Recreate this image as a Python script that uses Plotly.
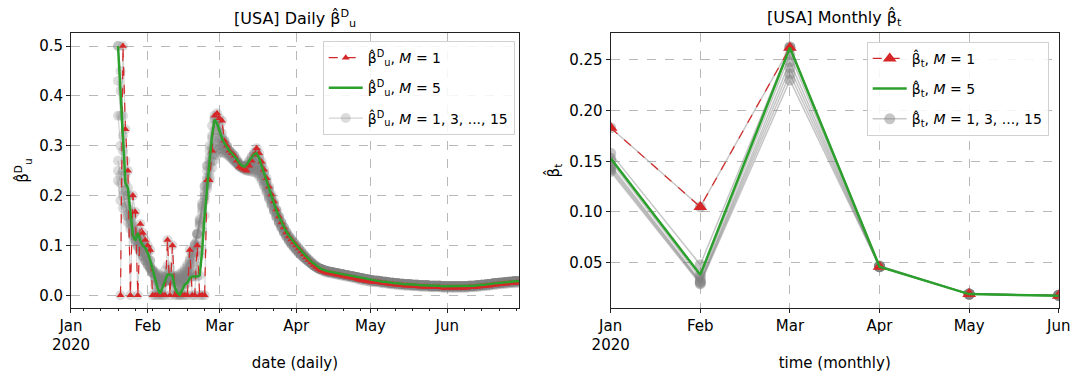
import plotly.graph_objects as go
import pandas as pd

# ---------------- daily data (left panel) ----------------
red_start = "2020-01-21"
red_m1 = [
    0, 0.5, 0.333, 0.25, 0, 0.2, 0.167, 0, 0.143, 0.125,
    0.111, 0.1, 0.091, 0, 0, 0, 0, 0, 0, 0.111,
    0, 0.1, 0, 0, 0, 0, 0, 0, 0.091, 0,
    0, 0.1, 0, 0, 0, 0.231, 0.231, 0.29, 0.36, 0.365,
    0.355, 0.35, 0.31, 0.3, 0.29, 0.285, 0.28, 0.27, 0.258, 0.255,
    0.252, 0.25, 0.26, 0.27, 0.282, 0.295, 0.285, 0.268, 0.252, 0.235,
    0.218, 0.202, 0.188, 0.172, 0.158, 0.146, 0.136, 0.126, 0.118, 0.112,
    0.106, 0.1, 0.094, 0.088, 0.082, 0.076, 0.071, 0.066, 0.061, 0.057,
    0.053, 0.05, 0.048, 0.046, 0.045, 0.044, 0.043, 0.042, 0.041, 0.04,
    0.039, 0.038, 0.037, 0.036, 0.035, 0.034, 0.032, 0.031, 0.03, 0.029,
    0.028, 0.027, 0.027, 0.026, 0.026, 0.025, 0.024, 0.024, 0.023, 0.022,
    0.022, 0.021, 0.021, 0.02, 0.02, 0.019, 0.019, 0.019, 0.018, 0.018,
    0.018, 0.017, 0.017, 0.017, 0.017, 0.016, 0.016, 0.016, 0.016, 0.016,
    0.015, 0.015, 0.015, 0.015, 0.015, 0.015, 0.015, 0.015, 0.015, 0.015,
    0.015, 0.016, 0.016, 0.016, 0.017, 0.017, 0.018, 0.018, 0.019, 0.019,
    0.02, 0.021, 0.021, 0.022, 0.022, 0.023, 0.023, 0.024, 0.024, 0.024,
    0.025, 0.025,
]

green_start = "2020-01-20"
green_m5 = [
    0.5, 0.41, 0.32, 0.225, 0.215, 0.165, 0.12, 0.11, 0.125, 0.11,
    0.1, 0.095, 0.085, 0.07, 0.05, 0.03, 0.015, 0.003, 0.015, 0.03,
    0.042, 0.042, 0.04, 0.015, 0.005, 0.001, 0.01, 0.022, 0.025, 0.035,
    0.038, 0.038, 0.038, 0.04, 0.09, 0.16, 0.22, 0.27, 0.32, 0.352,
    0.345, 0.33, 0.315, 0.305, 0.297, 0.29, 0.285, 0.28, 0.273, 0.266,
    0.26, 0.258, 0.262, 0.27, 0.277, 0.283, 0.285, 0.275, 0.26, 0.245,
    0.228, 0.212, 0.197, 0.183, 0.17, 0.158, 0.147, 0.137, 0.128, 0.12,
    0.113, 0.107, 0.101, 0.095, 0.089, 0.083, 0.078, 0.073, 0.068, 0.064,
    0.06, 0.056, 0.053, 0.051, 0.049, 0.048, 0.047, 0.046, 0.045, 0.044,
    0.043, 0.042, 0.041, 0.04, 0.039, 0.038, 0.037, 0.036, 0.035, 0.034,
    0.033, 0.032, 0.031, 0.03, 0.029, 0.029, 0.028, 0.027, 0.027, 0.026,
    0.025, 0.025, 0.024, 0.024, 0.023, 0.023, 0.022, 0.022, 0.022, 0.021,
    0.021, 0.021, 0.02, 0.02, 0.02, 0.02, 0.019, 0.019, 0.019, 0.019,
    0.019, 0.018, 0.018, 0.018, 0.018, 0.018, 0.018, 0.018, 0.018, 0.018,
    0.018, 0.018, 0.019, 0.019, 0.019, 0.02, 0.02, 0.021, 0.021, 0.022,
    0.022, 0.023, 0.024, 0.024, 0.025, 0.025, 0.026, 0.026, 0.027, 0.027,
    0.028, 0.028, 0.028,
]

# other window sizes: early part (Jan 20 .. Apr 10) read separately; later part coincides with M=5
gray_start = "2020-01-20"
gray_m3 = [
    0.5, 0.45, 0.36, 0.27, 0.2, 0.15, 0.16, 0.13, 0.12, 0.115,
    0.105, 0.098, 0.09, 0.07, 0.045, 0.02, 0.008, 0.012, 0.03, 0.05,
    0.06, 0.055, 0.035, 0.012, 0.004, 0.008, 0.02, 0.03, 0.04, 0.045,
    0.042, 0.045, 0.06, 0.08, 0.13, 0.2, 0.26, 0.3, 0.34, 0.355,
    0.35, 0.34, 0.325, 0.31, 0.3, 0.29, 0.283, 0.276, 0.268, 0.26,
    0.256, 0.255, 0.26, 0.268, 0.278, 0.286, 0.288, 0.277, 0.262, 0.246,
    0.23, 0.214, 0.198, 0.184, 0.17, 0.157, 0.146, 0.136, 0.127, 0.119,
    0.112, 0.105, 0.099, 0.093, 0.087, 0.081, 0.076, 0.071, 0.066, 0.062,
    0.058, 0.055,
]
gray_m7 = [
    0.43, 0.36, 0.29, 0.24, 0.2, 0.17, 0.14, 0.125, 0.115, 0.105,
    0.095, 0.085, 0.072, 0.058, 0.045, 0.034, 0.026, 0.022, 0.024, 0.028,
    0.032, 0.033, 0.03, 0.025, 0.02, 0.02, 0.024, 0.03, 0.038, 0.05,
    0.065, 0.085, 0.11, 0.14, 0.18, 0.22, 0.26, 0.29, 0.315, 0.33,
    0.332, 0.326, 0.316, 0.305, 0.296, 0.287, 0.28, 0.273, 0.267, 0.262,
    0.258, 0.257, 0.259, 0.263, 0.268, 0.272, 0.272, 0.265, 0.252, 0.237,
    0.222, 0.206, 0.191, 0.177, 0.164, 0.152, 0.141, 0.131, 0.122, 0.114,
    0.107, 0.1, 0.094, 0.088, 0.083, 0.078, 0.073, 0.068, 0.064, 0.06,
    0.057, 0.054,
]
gray_m9 = [
    0.36, 0.3, 0.25, 0.21, 0.18, 0.155, 0.135, 0.12, 0.108, 0.097,
    0.087, 0.077, 0.066, 0.055, 0.045, 0.037, 0.031, 0.027, 0.026, 0.027,
    0.029, 0.03, 0.029, 0.027, 0.025, 0.025, 0.028, 0.034, 0.044, 0.058,
    0.075, 0.097, 0.123, 0.153, 0.185, 0.218, 0.25, 0.277, 0.298, 0.31,
    0.315, 0.313, 0.307, 0.3, 0.292, 0.285, 0.278, 0.272, 0.267, 0.263,
    0.26, 0.258, 0.258, 0.26, 0.263, 0.265, 0.263, 0.256, 0.244, 0.23,
    0.215, 0.2, 0.186, 0.172, 0.16, 0.148, 0.138, 0.128, 0.12, 0.112,
    0.105, 0.099, 0.093, 0.087, 0.082, 0.077, 0.072, 0.068, 0.064, 0.06,
    0.057, 0.054,
]
gray_m11 = [
    0.27, 0.24, 0.21, 0.185, 0.163, 0.145, 0.128, 0.114, 0.101, 0.09,
    0.08, 0.07, 0.061, 0.053, 0.046, 0.04, 0.035, 0.032, 0.03, 0.03,
    0.03, 0.031, 0.031, 0.031, 0.031, 0.032, 0.035, 0.041, 0.05, 0.063,
    0.08, 0.1, 0.124, 0.15, 0.178, 0.207, 0.236, 0.262, 0.282, 0.295,
    0.302, 0.303, 0.3, 0.295, 0.289, 0.283, 0.277, 0.271, 0.266, 0.262,
    0.259, 0.257, 0.256, 0.256, 0.257, 0.258, 0.256, 0.25, 0.239, 0.226,
    0.212, 0.198, 0.184, 0.171, 0.159, 0.147, 0.137, 0.127, 0.119, 0.111,
    0.104, 0.098, 0.092, 0.086, 0.081, 0.076, 0.072, 0.068, 0.064, 0.06,
    0.057, 0.054,
]
gray_m13 = [
    0.25, 0.225, 0.2, 0.178, 0.158, 0.14, 0.124, 0.11, 0.098, 0.088,
    0.078, 0.069, 0.061, 0.054, 0.048, 0.043, 0.039, 0.036, 0.034, 0.033,
    0.033, 0.033, 0.034, 0.035, 0.036, 0.038, 0.042, 0.048, 0.057, 0.069,
    0.084, 0.102, 0.123, 0.147, 0.172, 0.198, 0.224, 0.248, 0.268, 0.282,
    0.291, 0.294, 0.293, 0.29, 0.285, 0.28, 0.275, 0.27, 0.265, 0.261,
    0.258, 0.255, 0.253, 0.252, 0.252, 0.252, 0.25, 0.244, 0.234, 0.222,
    0.209, 0.195, 0.182, 0.169, 0.157, 0.146, 0.136, 0.126, 0.118, 0.11,
    0.103, 0.097, 0.091, 0.086, 0.081, 0.076, 0.072, 0.068, 0.064, 0.06,
    0.057, 0.054,
]
gray_m15 = [
    0.23, 0.19, 0.175, 0.16, 0.146, 0.133, 0.12, 0.108, 0.097, 0.087,
    0.078, 0.07, 0.063, 0.057, 0.051, 0.047, 0.043, 0.04, 0.038, 0.037,
    0.036, 0.036, 0.037, 0.038, 0.04, 0.043, 0.047, 0.053, 0.062, 0.073,
    0.087, 0.103, 0.122, 0.143, 0.166, 0.19, 0.214, 0.237, 0.256, 0.271,
    0.281, 0.286, 0.287, 0.285, 0.282, 0.278, 0.273, 0.268, 0.264, 0.26,
    0.257, 0.254, 0.251, 0.249, 0.248, 0.247, 0.245, 0.239, 0.23, 0.219,
    0.206, 0.193, 0.18, 0.168, 0.156, 0.145, 0.135, 0.126, 0.117, 0.109,
    0.102, 0.096, 0.09, 0.085, 0.08, 0.076, 0.072, 0.068, 0.064, 0.06,
    0.057, 0.054,
]

month_ticks = ["2020-01-01", "2020-02-01", "2020-03-01", "2020-04-01", "2020-05-01", "2020-06-01"]
month_labels = ["Jan<br>2020", "Feb", "Mar", "Apr", "May", "Jun"]

# ---------------- monthly data (right panel) ----------------
months = [0, 1, 2, 3, 4, 5]
mon_red_m1 = [0.183, 0.105, 0.262, 0.046, 0.019, 0.0175]
mon_green_m5 = [0.153, 0.038, 0.262, 0.046, 0.019, 0.0175]
mon_gray = {
    1: [0.183, 0.105, 0.262, 0.046, 0.019, 0.0175],
    3: [0.158, 0.048, 0.263, 0.047, 0.019, 0.018],
    5: [0.153, 0.038, 0.262, 0.046, 0.019, 0.0175],
    7: [0.150, 0.035, 0.255, 0.046, 0.019, 0.018],
    9: [0.146, 0.032, 0.248, 0.046, 0.019, 0.018],
    11: [0.144, 0.031, 0.242, 0.046, 0.019, 0.018],
    13: [0.142, 0.030, 0.236, 0.046, 0.019, 0.018],
    15: [0.140, 0.029, 0.230, 0.046, 0.019, 0.018],
}

RED = "#d62728"
GREEN = "#2ca02c"
GRAY_LINE = "rgba(128,128,128,0.35)"
GRAY_MK = "rgba(128,128,128,0.28)"

def dates(start, n):
    return pd.date_range(start, periods=n, freq="D")

fig = go.Figure()

# left panel gray traces
n_early = len(gray_m3)
gray_daily = [
    (red_start, red_m1),
    (gray_start, gray_m3 + green_m5[n_early:]),
    (green_start, green_m5),
    (gray_start, gray_m7 + green_m5[n_early:]),
    (gray_start, gray_m9 + green_m5[n_early:]),
    (gray_start, gray_m11 + green_m5[n_early:]),
    (gray_start, gray_m13 + green_m5[n_early:]),
    (gray_start, gray_m15 + green_m5[n_early:]),
]
for i, (st, vals) in enumerate(gray_daily):
    fig.add_trace(go.Scatter(
        x=dates(st, len(vals)), y=vals, mode="lines+markers",
        line=dict(color=GRAY_LINE, width=1.2),
        marker=dict(symbol="circle", size=10, color=GRAY_MK, line=dict(width=0)),
        name="β̂<sup>D</sup><sub>u</sub>, <i>M</i> = 1, 3, ..., 15",
        showlegend=(i == 0), legend="legend", legendrank=3, legendgroup="g3",
        xaxis="x", yaxis="y",
    ))

fig.add_trace(go.Scatter(
    x=dates(red_start, len(red_m1)), y=red_m1, mode="lines+markers",
    line=dict(color=RED, width=1.2, dash="dash"),
    marker=dict(symbol="triangle-up", size=7, color=RED),
    name="β̂<sup>D</sup><sub>u</sub>, <i>M</i> = 1", legend="legend", legendrank=1,
    legendgroup="g1", xaxis="x", yaxis="y",
))
fig.add_trace(go.Scatter(
    x=dates(green_start, len(green_m5)), y=green_m5, mode="lines",
    line=dict(color=GREEN, width=2.5),
    name="β̂<sup>D</sup><sub>u</sub>, <i>M</i> = 5", legend="legend", legendrank=2,
    legendgroup="g2", xaxis="x", yaxis="y",
))

# right panel
for i, m in enumerate(sorted(mon_gray)):
    fig.add_trace(go.Scatter(
        x=months, y=mon_gray[m], mode="lines+markers",
        line=dict(color="rgba(128,128,128,0.45)", width=1.5),
        marker=dict(symbol="circle", size=11, color="rgba(128,128,128,0.45)", line=dict(width=0)),
        name="β̂<sub>t</sub>, <i>M</i> = 1, 3, ..., 15",
        showlegend=(i == 0), legend="legend2", legendrank=3, legendgroup="h3",
        xaxis="x2", yaxis="y2",
    ))
fig.add_trace(go.Scatter(
    x=months, y=mon_red_m1, mode="lines+markers",
    line=dict(color=RED, width=1.2, dash="dash"),
    marker=dict(symbol="triangle-up", size=12, color=RED),
    name="β̂<sub>t</sub>, <i>M</i> = 1", legend="legend2", legendrank=1,
    legendgroup="h1", xaxis="x2", yaxis="y2",
))
fig.add_trace(go.Scatter(
    x=months, y=mon_green_m5, mode="lines",
    line=dict(color=GREEN, width=2.5),
    name="β̂<sub>t</sub>, <i>M</i> = 5", legend="legend2", legendrank=2,
    legendgroup="h2", xaxis="x2", yaxis="y2",
))

axis_common = dict(
    showline=True, linecolor="#222222", linewidth=1, mirror=True,
    ticks="outside", ticklen=4, tickwidth=1, tickcolor="#222222",
    showgrid=True, gridcolor="#b8b8b8", griddash="dash", gridwidth=1,
    zeroline=False, tickfont=dict(size=15, color="black"), automargin=False,
)

legend_common = dict(
    xanchor="left", yanchor="top", bgcolor="rgba(255,255,255,0.85)",
    bordercolor="#d0d0d0", borderwidth=1, font=dict(size=14, color="black"),
    traceorder="grouped", tracegroupgap=9, itemwidth=34,
)

fig.update_layout(
    width=1074, height=380, margin=dict(l=0, r=0, t=0, b=0),
    paper_bgcolor="white", plot_bgcolor="white",
    font=dict(family="DejaVu Sans", size=15, color="black"),
    xaxis=dict(axis_common, domain=[0.0661, 0.4832], type="date",
               range=["2020-01-01", "2020-06-30"],
               tickvals=month_ticks, ticktext=month_labels,
               minor=dict(ticks="outside", ticklen=2.5, tickcolor="#222222",
                          tick0="2020-01-06", dtick=7 * 86400000, showgrid=False),
               title=dict(text="date (daily)", font=dict(size=15), standoff=4)),
    yaxis=dict(axis_common, domain=[0.19, 0.9124], range=[-0.025, 0.5255],
               tickvals=[0, 0.1, 0.2, 0.3, 0.4, 0.5], tickformat=".1f",
               title=dict(text="β̂<sup>D</sup><sub>u</sub>", font=dict(size=15), standoff=6)),
    xaxis2=dict(axis_common, domain=[0.5686, 0.9858], anchor="y2", range=[0, 5],
                tickvals=months, ticktext=month_labels,
                title=dict(text="time (monthly)", font=dict(size=15), standoff=4)),
    yaxis2=dict(axis_common, domain=[0.19, 0.9124], anchor="x2", range=[0.0055, 0.2762],
                tickvals=[0.05, 0.10, 0.15, 0.20, 0.25], tickformat=".2f",
                title=dict(text="β̂<sub>t</sub>", font=dict(size=15), standoff=6)),
    legend=dict(legend_common, x=0.3005, y=0.892),
    legend2=dict(legend_common, x=0.807, y=0.890),
    annotations=[
        dict(text="[USA] Daily β̂<sup>D</sup><sub>u</sub>", x=0.2747, y=0.952, xref="paper", yref="paper",
             xanchor="center", yanchor="middle", showarrow=False, font=dict(size=16)),
        dict(text="[USA] Monthly β̂<sub>t</sub>", x=0.7772, y=0.952, xref="paper", yref="paper",
             xanchor="center", yanchor="middle", showarrow=False, font=dict(size=16)),
    ],
)

fig.write_html("out.html", config={"displayModeBar": False},
               post_script="document.body.style.margin='0';")
